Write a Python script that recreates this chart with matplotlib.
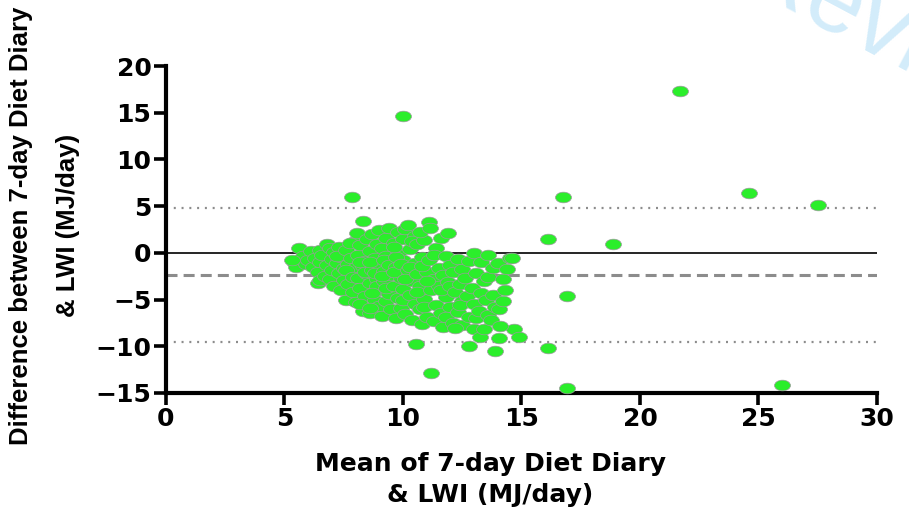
import numpy as np
import matplotlib
matplotlib.use("Agg")
import matplotlib.pyplot as plt
from matplotlib import font_manager
from matplotlib.path import Path
from matplotlib.transforms import Affine2D

# mean of the two methods (MJ/day)
mean_x = [
    # dense cluster
    5.4, 5.5, 5.6, 5.8, 5.9, 6.0, 5.3,
    6.1, 6.2, 6.3, 6.4, 6.4, 6.5, 6.5, 6.5,
    6.6, 6.7, 6.8, 6.8, 6.9, 6.9, 7.0, 7.0,
    7.1, 7.1, 7.2, 7.3, 7.3, 7.4, 7.4, 7.5, 7.5, 7.2,
    7.6, 7.6, 7.7, 7.7, 7.8, 7.8, 7.9, 7.9, 8.0, 8.0, 7.76, 7.6, 7.9,
    8.05, 8.1, 8.1, 8.2, 8.2, 8.3, 8.3, 8.3, 8.4, 8.4, 8.5, 8.5, 8.2, 8.4, 8.2,
    8.6, 8.6, 8.6, 8.7, 8.7, 8.8, 8.8, 8.9, 8.9, 9.0, 9.0, 9.0, 8.6, 8.8, 8.9, 8.7, 9.0, 8.6,
    9.1, 9.1, 9.2, 9.2, 9.3, 9.3, 9.3, 9.4, 9.4, 9.5, 9.5, 9.5, 9.1, 9.2, 9.4, 9.3,
    9.6, 9.6, 9.7, 9.7, 9.8, 9.8, 9.8, 9.9, 9.9, 10.0, 10.0, 10.0, 9.6, 9.7, 9.9, 10.0, 9.6,
    10.1, 10.1, 10.2, 10.2, 10.3, 10.3, 10.4, 10.4, 10.5, 10.5, 10.5, 10.1, 10.3, 10.4,
    10.6, 10.6, 10.7, 10.7, 10.8, 10.8, 10.9, 10.9, 11.0, 11.0, 10.6, 10.8, 10.7, 10.9,
    11.1, 11.15, 11.1, 11.2, 11.3, 11.3, 11.4, 11.4, 11.5, 11.5, 11.0, 11.3,
    11.6, 11.6, 11.7, 11.7, 11.8, 11.8, 11.9, 11.9, 12.0, 12.0, 11.6, 11.8, 12.0,
    12.1, 12.1, 12.2, 12.3, 12.3, 12.4, 12.5, 12.5, 12.5, 12.4, 12.2,
    12.6, 12.7, 12.8, 12.8, 12.9, 13.0, 13.0, 13.0, 13.1,
    13.1, 13.2, 13.25, 13.3, 13.3, 13.4, 13.4, 13.5, 13.6,
    13.6, 13.6, 13.7, 13.8, 13.8, 13.9, 14.0, 14.05, 14.05, 14.2,
    14.3, 14.4, 14.5, 14.6, 14.7, 14.9, 14.2, 14.1,
    # scattered points
    7.85, 10.0, 10.55, 11.2, 12.8, 13.9,
    16.1, 16.75, 16.9, 16.1, 16.9, 18.85, 21.7, 24.6, 27.5, 26.0,
]

# difference between the two methods (MJ/day)
diff_y = [
    -1.0, -1.5, 0.5, -0.3, -1.2, -0.8, -0.8,
    0.2, -1.5, -0.5, -3.2, -2.0, 0.3, -1.0, -2.9,
    -0.2, -2.5, 1.0, -1.3, 0.5, -2.8, -0.7, -1.8,
    0.1, -3.5, -1.1, -2.2, 0.6, -0.4, -4.0, -1.6, -2.9, -0.3,
    0.3, -5.0, -1.2, -3.3, -0.6, -2.1, -4.2, 1.2, -1.5, -5.3, 1.05, -1.8, -2.6,
    2.1, -0.2, -2.7, -3.8, 0.8, 3.4, -1.4, -6.2, -4.6, -0.9, 1.5, -2.3, -1.0, -2.0, -5.5,
    -6.4, -3.2, 0.2, -1.8, 2.0, -5.0, -0.5, -2.8, 1.0, -4.0, -1.2, 2.4, -1.0, -2.2, -3.5, -4.3, -5.7, -5.9,
    -6.8, 0.5, -3.0, -1.9, -5.2, 1.6, -0.3, -4.4, 2.7, -2.4, -0.9, -6.0, -2.5, -0.8, -1.3, -3.8,
    1.1, -3.6, -7.0, -1.5, 2.2, -4.8, 0.0, -2.7, -5.9, 1.5, -3.9, -0.8, -2.1, -0.4, -1.2, -5.0, 0.6,
    2.6, -6.5, -1.8, 3.0, -4.5, 0.4, -3.0, -7.2, -1.1, 1.8, -5.5, -2.8, -1.5, 1.3,
    -2.3, 0.9, -6.0, -3.6, -0.4, -7.6, -4.9, 1.4, -2.0, -6.9, -4.2, -1.4, 2.2, -5.8,
    3.3, 2.7, -0.8, -4.0, -2.8, -7.3, 0.5, -5.6, -1.6, -3.5, -3.0, -0.2,
    1.6, -6.4, -2.4, -7.9, -0.3, -4.7, 2.1, -3.1, -5.8, -1.3, -4.0, -6.9, -3.6,
    -7.5, -2.0, -4.2, -0.7, -6.3, -3.3, -5.2, -1.7, -7.7, -5.6, -8.0,
    -2.7, -4.6, -6.9, -0.9, -3.8, 0.0, -5.5, -8.1, -2.2,
    -7.0, -6.2, -9.0, -1.0, -4.3, -8.1, -3.0, -5.0, -0.2,
    -2.6, -6.6, -7.2, -4.5, -1.6, -5.8, -1.1, -6.0, -9.1, -5.2,
    -4.0, -1.7, -0.5, -0.5, -8.1, -9.0, -2.8, -7.8,
    6.0, 14.7, -9.8, -12.9, -10.0, -10.5,
    1.5, 6.0, -4.6, -10.2, -14.5, 0.9, 17.3, 6.4, 5.1, -14.1,
]

mean_diff = -2.35          # bias
upper_loa = 4.75           # upper limit of agreement
lower_loa = -9.55          # lower limit of agreement

x_ticks = [0, 5, 10, 15, 20, 25, 30]
y_ticks = [-15, -10, -5, 0, 5, 10, 15, 20]

names = {f.name for f in font_manager.fontManager.ttflist}
if "Liberation Sans Narrow" in names:
    ylab_family, ylab_size, ylab_ls = "Liberation Sans Narrow", 22.5, 1.75
else:
    ylab_family, ylab_size, ylab_ls = "Liberation Sans", 18.5, 2.2

fig = plt.figure(figsize=(9.09, 5.16), dpi=100)
ax = fig.add_axes([0.1826, 0.2384, 0.7822, 0.6336])

# wide ellipse marker like the stretched original
ellipse = Path.unit_circle().transformed(Affine2D().scale(1.5, 1.0))

grey = "#8c8c8c"
ax.axhline(0, color="black", lw=1.2, zorder=1)
ax.axhline(mean_diff, color=grey, lw=2.2, linestyle=(0, (3.6, 2.0)), zorder=1)
ax.axhline(upper_loa, color=grey, lw=1.6, linestyle=(0, (0.9, 2.6)), zorder=1)
ax.axhline(lower_loa, color=grey, lw=1.6, linestyle=(0, (0.9, 2.6)), zorder=1)

ax.plot(mean_x, diff_y, linestyle="none", marker=ellipse, markersize=11.5,
        markerfacecolor="#2bee2b", markeredgecolor="#9a9a9a",
        markeredgewidth=0.5, zorder=3, clip_on=False)

ax.set_xlim(0, 30)
ax.set_ylim(-15, 20)
ax.set_xticks(x_ticks)
ax.set_yticks(y_ticks)

for side in ["top", "right"]:
    ax.spines[side].set_visible(False)
for side in ["left", "bottom"]:
    ax.spines[side].set_linewidth(3.0)

ax.tick_params(axis="both", direction="out", length=8.5, width=2.6, color="black")
ax.tick_params(axis="y", pad=2)
ax.tick_params(axis="x", pad=1.5)
for lab in ax.get_xticklabels() + ax.get_yticklabels():
    lab.set_fontfamily("DejaVu Sans")
    lab.set_fontweight("bold")
    lab.set_fontsize(18)

ax.set_xlabel("Mean of 7-day Diet Diary\n& LWI (MJ/day)", fontfamily="DejaVu Sans",
              fontweight="bold", fontsize=18, linespacing=1.4)
ax.xaxis.set_label_coords(0.456, -0.18)

ax.set_ylabel("Difference between 7-day Diet Diary\n& LWI (MJ/day)",
              fontfamily=ylab_family, fontweight="bold", fontsize=ylab_size,
              linespacing=ylab_ls)
ax.yaxis.set_label_coords(-0.121, 0.511)

# faint review watermark, cut by the top right corner as in the original
fig.text(0.98, 0.925, "Review", color="#d3ecfa", fontsize=72,
         fontfamily="Liberation Sans", rotation=-28, ha="center", va="center",
         zorder=0)

fig.savefig("out.png", dpi=100)
